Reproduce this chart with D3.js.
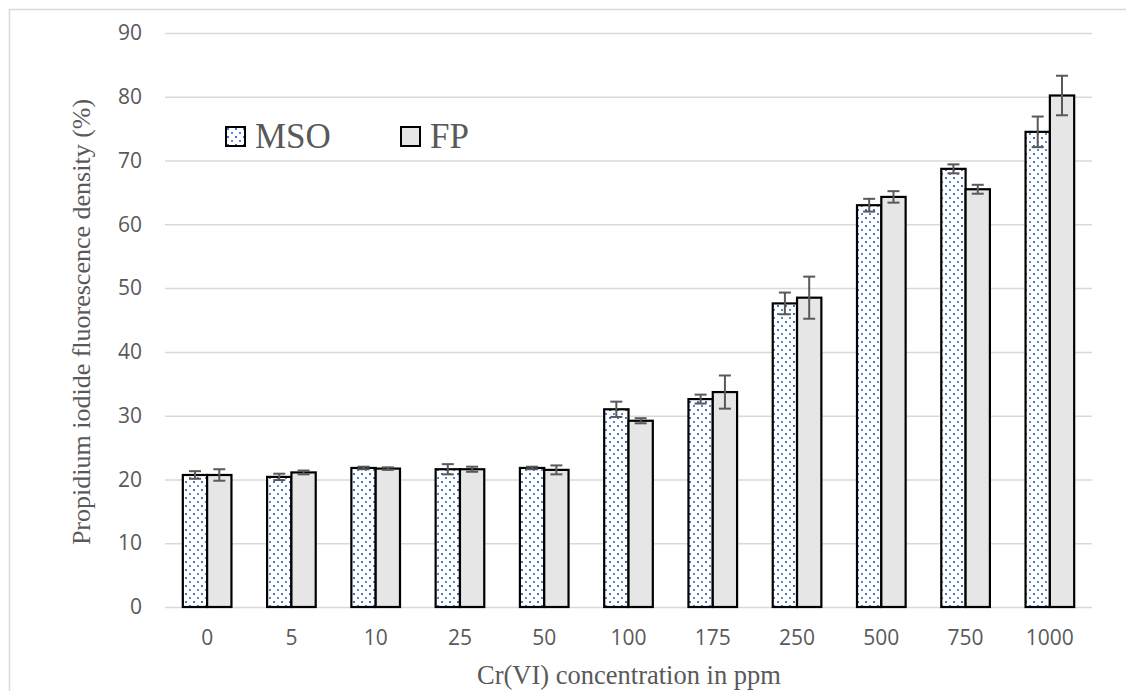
<!DOCTYPE html>
<html>
<head>
<meta charset="utf-8">
<script src="https://cdn.jsdelivr.net/npm/d3@7"></script>
<style>
  body { margin: 0; background: #fff; }
  svg { display: block; }
</style>
</head>
<body>
<script>
var categories = ['0', '5', '10', '25', '50', '100', '175', '250', '500', '750', '1000'];
var seriesNames = ['MSO', 'FP'];
var msoValues = [20.7, 20.4, 21.8, 21.6, 21.8, 31.0, 32.6, 47.6, 63.0, 68.7, 74.5];
var msoErrors = [0.6, 0.5, 0.2, 0.8, 0.2, 1.2, 0.7, 1.7, 1.0, 0.7, 2.4];
var fpValues = [20.7, 21.1, 21.7, 21.6, 21.5, 29.2, 33.7, 48.5, 64.3, 65.5, 80.2];
var fpErrors = [0.9, 0.3, 0.2, 0.4, 0.7, 0.4, 2.6, 3.3, 0.9, 0.7, 3.1];
var yTicks = [0, 10, 20, 30, 40, 50, 60, 70, 80, 90];

var w = 1126;
var h = 691;
var plotLeft = 165, plotRight = 1092, plotTop = 33, plotBottom = 607;
var serif = '"Liberation Serif", "Times New Roman", serif';
var sans = '"Open Sans", Calibri, sans-serif';
var textColor = '#595959';

var rows = [];
categories.forEach(function (c, i) {
  rows.push({ cat: c, series: 'MSO', value: msoValues[i], err: msoErrors[i] });
  rows.push({ cat: c, series: 'FP', value: fpValues[i], err: fpErrors[i] });
});

var svg = d3.select('body')
  .append('svg')
  .attr('width', w)
  .attr('height', h);

svg.append('rect')
  .attr('width', w).attr('height', h)
  .attr('fill', '#fff');

// dotted fill for MSO
var pat = svg.append('defs').append('pattern')
  .attr('id', 'dots')
  .attr('patternUnits', 'userSpaceOnUse')
  .attr('width', 8).attr('height', 8);
pat.append('rect').attr('width', 8).attr('height', 8).attr('fill', '#fff');
pat.append('rect').attr('x', 1).attr('y', 1).attr('width', 2).attr('height', 2).attr('fill', '#4472c4');
pat.append('rect').attr('x', 5).attr('y', 5).attr('width', 2).attr('height', 2).attr('fill', '#5b86d0');

// chart border
svg.append('rect')
  .attr('x', 9.5).attr('y', 9.5)
  .attr('width', 1130).attr('height', 700)
  .attr('fill', 'none')
  .attr('stroke', '#d9d9d9')
  .attr('stroke-width', 1.5);

var x0 = d3.scaleBand()
  .domain(categories)
  .range([plotLeft, plotRight])
  .paddingInner(0.423)
  .paddingOuter(0.2115);

var x1 = d3.scaleBand()
  .domain(seriesNames)
  .range([0, x0.bandwidth()]);

var yScale = d3.scaleLinear()
  .domain([0, 90])
  .range([plotBottom, plotTop]);

var fills = { MSO: 'url(#dots)', FP: '#e6e6e6' };

// y axis with gridlines
var yAxis = d3.axisLeft(yScale)
  .tickValues(yTicks)
  .tickSize(-(plotRight - plotLeft))
  .tickPadding(23);

var gy = svg.append('g')
  .attr('class', 'y_axis')
  .attr('transform', 'translate(' + plotLeft + ',0)')
  .call(yAxis);
gy.select('.domain').remove();
gy.selectAll('line')
  .attr('stroke', '#d9d9d9')
  .attr('stroke-width', 1.5);
gy.selectAll('text')
  .attr('fill', textColor)
  .style('font-family', sans)
  .style('font-size', '21px');

// x axis
var xAxis = d3.axisBottom(x0)
  .tickSize(0)
  .tickPadding(23);

var gx = svg.append('g')
  .attr('class', 'x_axis')
  .attr('transform', 'translate(0,' + plotBottom + ')')
  .call(xAxis);
gx.select('.domain').remove();
gx.selectAll('text')
  .attr('fill', textColor)
  .style('font-family', sans)
  .style('font-size', '21px');

// bars
svg.append('g')
  .selectAll('rect')
  .data(rows)
  .enter()
  .append('rect')
  .attr('x', d => x0(d.cat) + x1(d.series))
  .attr('y', d => yScale(d.value))
  .attr('width', x1.bandwidth())
  .attr('height', d => yScale(0) - yScale(d.value))
  .attr('fill', d => fills[d.series])
  .attr('stroke', '#000')
  .attr('stroke-width', 2.2);

// error bars
var eb = svg.append('g')
  .attr('stroke', '#595959')
  .attr('stroke-width', 2);
var cx = d => x0(d.cat) + x1(d.series) + x1.bandwidth() / 2;

eb.selectAll('line.stem')
  .data(rows)
  .enter()
  .append('line')
  .attr('class', 'stem')
  .attr('x1', cx).attr('x2', cx)
  .attr('y1', d => yScale(d.value - d.err))
  .attr('y2', d => yScale(d.value + d.err));

eb.selectAll('line.capTop')
  .data(rows)
  .enter()
  .append('line')
  .attr('class', 'capTop')
  .attr('x1', d => cx(d) - 6).attr('x2', d => cx(d) + 6)
  .attr('y1', d => yScale(d.value + d.err))
  .attr('y2', d => yScale(d.value + d.err));

eb.selectAll('line.capBottom')
  .data(rows)
  .enter()
  .append('line')
  .attr('class', 'capBottom')
  .attr('x1', d => cx(d) - 6).attr('x2', d => cx(d) + 6)
  .attr('y1', d => yScale(d.value - d.err))
  .attr('y2', d => yScale(d.value - d.err));

// legend
var legendX = [226, 401];
var legend = svg.append('g')
  .selectAll('g')
  .data(seriesNames)
  .enter()
  .append('g')
  .attr('transform', (d, i) => 'translate(' + legendX[i] + ',127)');

legend.append('rect')
  .attr('width', 19).attr('height', 19)
  .attr('fill', d => fills[d])
  .attr('stroke', '#000')
  .attr('stroke-width', 2);

legend.append('text')
  .attr('x', 29)
  .attr('y', 21)
  .attr('fill', textColor)
  .style('font-family', serif)
  .style('font-size', '35px')
  .text(d => d);

// axis titles
svg.append('text')
  .attr('x', (plotLeft + plotRight) / 2 + 0.5)
  .attr('y', 684)
  .attr('text-anchor', 'middle')
  .attr('fill', textColor)
  .style('font-family', serif)
  .style('font-size', '26.5px')
  .text('Cr(VI) concentration in ppm');

svg.append('text')
  .attr('transform', 'translate(90,322) rotate(-90)')
  .attr('text-anchor', 'middle')
  .attr('fill', textColor)
  .style('font-family', serif)
  .style('font-size', '26px')
  .text('Propidium iodide fluorescence density (%)');
</script>
</body>
</html>
